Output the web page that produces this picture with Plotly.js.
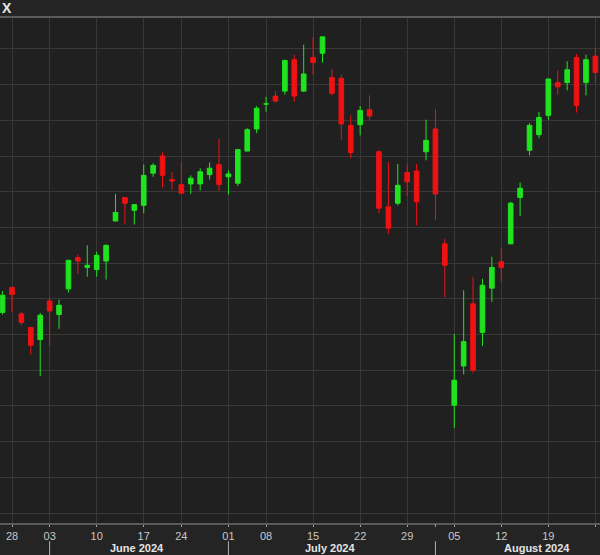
<!DOCTYPE html>
<html>
<head>
<meta charset="utf-8">
<script src="https://cdn.plot.ly/plotly-3.0.1.min.js"></script>
<style>html,body{margin:0;padding:0;background:#232323;}#chart{width:600px;height:555px;}</style>
</head>
<body>
<div id="chart"></div>
<script>
// Trading days (S&P 500 daily candles), index = position on the trading-day axis
const dates = ["May 24","May 28","May 29","May 30","May 31","Jun 03","Jun 04","Jun 05","Jun 06","Jun 07",
"Jun 10","Jun 11","Jun 12","Jun 13","Jun 14","Jun 17","Jun 18","Jun 20","Jun 21","Jun 24",
"Jun 25","Jun 26","Jun 27","Jun 28","Jul 01","Jul 02","Jul 03","Jul 05","Jul 08","Jul 09",
"Jul 10","Jul 11","Jul 12","Jul 15","Jul 16","Jul 17","Jul 18","Jul 19","Jul 22","Jul 23",
"Jul 24","Jul 25","Jul 26","Jul 29","Jul 30","Jul 31","Aug 01","Aug 02","Aug 05","Aug 06",
"Aug 07","Aug 08","Aug 09","Aug 12","Aug 13","Aug 14","Aug 15","Aug 16","Aug 19","Aug 20",
"Aug 21","Aug 22","Aug 23","Aug 26"];
const openV  = [5281,5316,5279,5260,5243,5297,5278,5314,5358,5344,5341,5353,5409,5442,5424,5431,5476,5500,5467,5460,
5461,5461,5474,5488,5471,5462,5507,5538,5573,5584,5591,5635,5591,5638,5644,5610,5609,5543,5544,5565,
5506,5429,5434,5477,5479,5506,5538,5377,5151,5206,5293,5253,5315,5352,5377,5442,5508,5530,5557,5603,
5603,5638,5603,5640];
const highV  = [5311,5316,5282,5260,5280,5302,5299,5354,5362,5375,5366,5376,5447,5442,5432,5488,5490,5505,5478,5491,
5473,5483,5491,5524,5480,5510,5539,5570,5583,5591,5635,5642,5656,5667,5667,5622,5614,5557,5570,5585,
5508,5492,5489,5488,5489,5551,5566,5384,5251,5312,5331,5328,5359,5371,5436,5463,5546,5562,5608,5620,
5633,5643,5642,5652];
const lowV   = [5278,5281,5263,5222,5192,5234,5258,5309,5335,5331,5331,5327,5409,5404,5404,5420,5471,5456,5452,5448,
5447,5452,5467,5451,5446,5458,5507,5532,5562,5575,5586,5576,5590,5614,5631,5585,5523,5497,5529,5551,
5420,5391,5431,5444,5403,5494,5410,5302,5119,5194,5196,5234,5296,5324,5377,5416,5501,5525,5551,5586,
5592,5561,5585,5602];
const closeV = [5305,5306,5267,5235,5277,5283,5291,5354,5353,5347,5361,5375,5421,5434,5432,5473,5487,5473,5465,5448,
5469,5478,5483,5460,5475,5509,5537,5567,5573,5577,5634,5584,5615,5631,5667,5588,5545,5505,5564,5556,
5427,5399,5459,5464,5436,5522,5447,5347,5186,5240,5200,5319,5344,5344,5434,5455,5543,5554,5608,5597,
5621,5571,5635,5617];

// Weekly tick labels and their trading-day indices
const weekIdx    = [1,5,10,15,19,24,28,33,38,43,48,53,58,63];
const weekLabels = ["28","03","10","17","24","01","08","15","22","29","05","12","19","26"];
// Month labels
const monthStartIdx = [5,24,46];
const monthCenterIdx = [14.3,34.8,56.8];
const monthLabels = ["June 2024","July 2024","August 2024"];

const xIdx = dates.map((d,i)=>i);

const trace = {
  type: 'candlestick',
  x: xIdx, open: openV, high: highV, low: lowV, close: closeV,
  text: dates, hoverinfo: 'text',
  width: 0.62,
  whiskerwidth: 0,
  increasing: {line: {color: '#1fe31f', width: 1}, fillcolor: '#1fe31f'},
  decreasing: {line: {color: '#f01212', width: 1}, fillcolor: '#f01212'},
  showlegend: false
};

const shapes = [];
// short tick for August (not on a weekly gridline)
shapes.push({type:'line', xref:'x', yref:'paper', x0:46, x1:46, y0:-0.002, y1:-0.008, line:{color:'#a0a0a0', width:1}});
monthStartIdx.forEach(i=>{
  shapes.push({type:'line', xref:'x', yref:'paper', x0:i, x1:i, y0:-0.036, y1:-0.07, line:{color:'#b0b0b0', width:1}});
});

const annotations = [{
  text: '<b>X</b>', xref:'paper', yref:'paper', x:0, y:1.0205, xanchor:'left', yanchor:'middle',
  showarrow:false, font:{family:'Liberation Sans, Arial, sans-serif', size:14, color:'#e8e8e8'}
}];
monthLabels.forEach((m,k)=>{
  annotations.push({text:'<b>'+m+'</b>', xref:'x', yref:'paper', x:monthCenterIdx[k], y:-0.0634,
    xanchor:'center', yanchor:'bottom', showarrow:false, borderpad:0,
    font:{family:'Liberation Sans, Arial, sans-serif', size:11, color:'#e4e4e4'}});
});

const layout = {
  width: 600, height: 555,
  margin: {l:0, r:0, t:18, b:32, pad:0},
  paper_bgcolor: '#242424',
  plot_bgcolor: '#202020',
  xaxis: {
    type:'linear', range:[-0.275, 63.49],
    rangeslider:{visible:false},
    tickmode:'array', tickvals: weekIdx, ticktext: weekLabels,
    showgrid:true, gridcolor:'#383838', gridwidth:1,
    showline:true, mirror:true, linecolor:'#5a5a5a', linewidth:2,
    ticks:'outside', ticklen:2, tickwidth:1, tickcolor:'#a0a0a0',
    tickfont:{family:'Liberation Sans, Arial, sans-serif', size:11, color:'#c8c8c8'},
    zeroline:false, fixedrange:true
  },
  yaxis: {
    range:[4986, 5693.4],
    dtick:50, tick0:5000,
    showgrid:true, gridcolor:'#383838', gridwidth:1,
    showticklabels:false, ticks:'', showline:false, zeroline:false, fixedrange:true
  },
  shapes: shapes,
  annotations: annotations
};

Plotly.newPlot('chart', [trace], layout, {staticPlot:true, displayModeBar:false});
</script>
</body>
</html>
